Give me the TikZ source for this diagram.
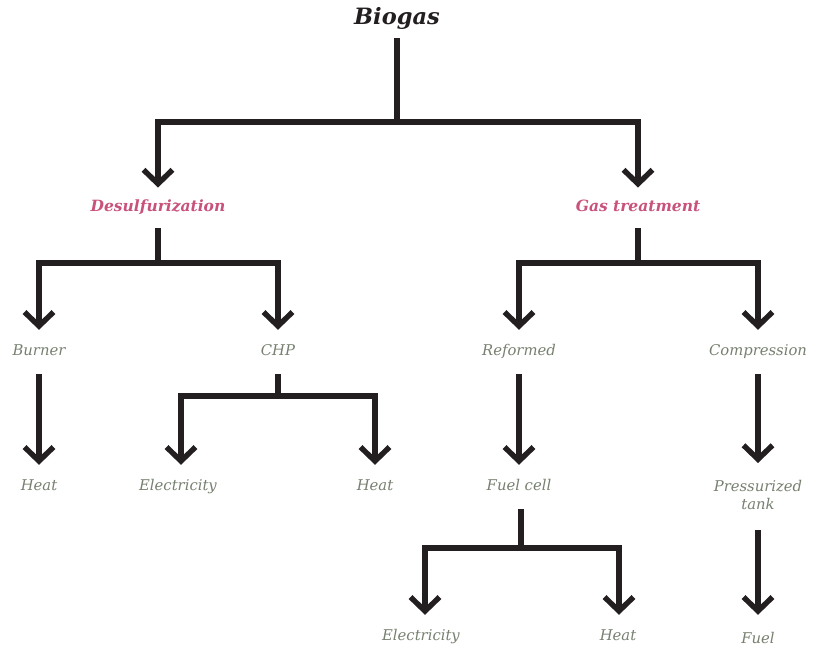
\documentclass[tikz,border=0pt]{standalone}
\usepackage{fontspec}
\setmainfont{DejaVu Serif}
\usepackage{tikz}
\usetikzlibrary{arrows.meta, positioning, calc}
\definecolor{ink}{HTML}{231f20}
\definecolor{rose}{HTML}{c8527c}
\definecolor{sage}{HTML}{778070}

\begin{document}
\begin{tikzpicture}[x=1pt, y=-1pt,
    stage/.style={font=\itshape\fontsize{14.8}{18}\selectfont, text=sage,
                  text height=11pt, text depth=3.5pt, inner xsep=0pt,
                  inner ysep=14.75pt, align=center},
    route/.style={stage, font=\bfseries\itshape\fontsize{15.5}{18}\selectfont,
                  text=rose, inner ysep=13pt},
    root/.style={font=\bfseries\itshape\fontsize{22.5}{26}\selectfont,
                 text=ink, inner ysep=9pt},
    link/.style={draw=ink, line width=5.4pt, line join=miter,
                 -{Straight Barb[length=14pt, width=29pt]}},
    split/.style={link, {Straight Barb[length=14pt, width=29pt]}-{Straight Barb[length=14pt, width=29pt]}},
    stem/.style={draw=ink, line width=5.4pt}
]
    \useasboundingbox (0,0) rectangle (817,648);

    \node[root] (biogas) at (397,18) {Biogas};

    \node[route] (desulf) at (158,208) {Desulfurization};
    \node[route] (gastreat) at (638,208) {Gas treatment};

    \node[stage] (burner) at (39,352) {Burner};
    \node[stage] (chp) at (278,352) {CHP};
    \node[stage] (reformed) at (519,352) {Reformed};
    \node[stage] (compress) at (758,352) {Compression};

    \node[stage] (heatA) at (39,487) {Heat};
    \node[stage] (elecA) at (178,487) {Electricity};
    \node[stage] (heatB) at (375,487) {Heat};
    \node[stage] (fuelcell) at (519,487) {Fuel cell};
    \node[stage, anchor=north] (tank) at (758,484) {Pressurized\\tank};

    \node[stage] (elecB) at (421,637) {Electricity};
    \node[stage] (heatC) at (618,637) {Heat};
    \node[stage] (fuel) at (758,640) {Fuel};

    % junctions
    \coordinate (jroot) at (397,122);
    \coordinate (jdes) at (158,263);
    \coordinate (jgas) at (638,263);
    \coordinate (jchp) at (278,396);
    \coordinate (jcell) at (521,548);

    \draw[stem] (biogas.south) -- (jroot);
    \draw[split] (desulf.north) |- (jroot) -| (gastreat.north);

    \draw[stem] (desulf.south) -- (jdes);
    \draw[split] (burner.north) |- (jdes) -| (chp.north);
    \draw[stem] (gastreat.south) -- (jgas);
    \draw[split] (reformed.north) |- (jgas) -| (compress.north);

    \draw[link] (burner.south) -- (heatA.north);
    \draw[stem] (chp.south) -- (jchp);
    \draw[split] ([xshift=3pt]elecA.north) |- (jchp) -| (heatB.north);
    \draw[link] (reformed.south) -- (fuelcell.north);
    \draw[link] (compress.south) -- ([yshift=21pt]tank.north);

    \draw[stem] ([xshift=2pt]fuelcell.south) -- (jcell);
    \draw[split] ([xshift=4pt]elecB.north) |- (jcell) -| ([xshift=1pt]heatC.north);
    \draw[link] ([yshift=-2pt]tank.south) -- ([yshift=3pt]fuel.north);
\end{tikzpicture}
\end{document}
